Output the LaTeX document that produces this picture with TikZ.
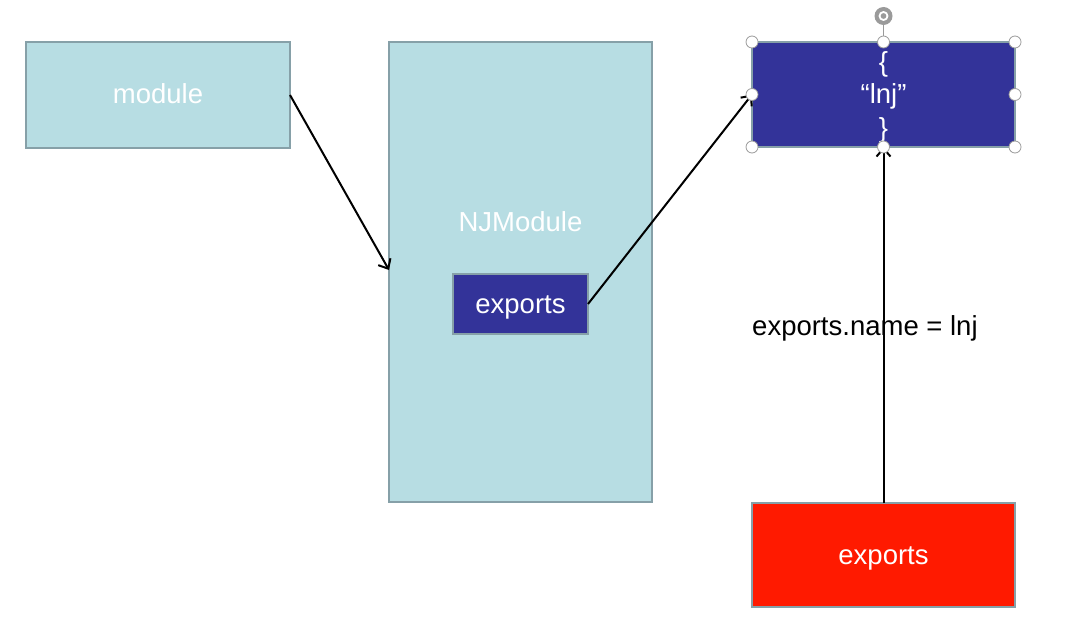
\documentclass[tikz,border=0pt]{standalone}
\usepackage{fontspec}
\setmainfont{Liberation Sans}
\usetikzlibrary{arrows.meta}
\definecolor{lightbox}{HTML}{B7DDE3}
\definecolor{boxline}{HTML}{86A0A8}
\definecolor{darkbox}{HTML}{333399}
\definecolor{redbox}{HTML}{FF1A00}
\definecolor{handleline}{HTML}{9A9A9A}
\tikzset{
  txt/.style={font=\fontsize{27.5}{33}\selectfont, text height=20pt, text depth=2pt},
  box/.style={txt, draw=boxline, line width=1.5pt, inner sep=0pt, outer sep=0pt, text=white},
  lightfill/.style={box, fill=lightbox},
  darkfill/.style={box, fill=darkbox},
  redfill/.style={box, fill=redbox},
  wtxt/.style={txt, text=white, inner sep=0pt},
  conn/.style={line width=2pt, -{Straight Barb[length=8pt,width=14pt,line width=2pt]}},
  handle/.style={circle, draw=handleline, fill=white, line width=0.8pt, minimum size=12pt, inner sep=0pt},
  lbl/.style={txt, inner sep=0pt, anchor=west}
}
\begin{document}
\begin{tikzpicture}[x=1pt,y=-1pt]
\useasboundingbox (0,0) rectangle (1091,631);
\node[lightfill, minimum width=264pt, minimum height=106pt] (module) at (158,95) {module};
\node[lightfill, minimum width=263pt, minimum height=460pt] (nj) at (520.5,272) {};
\node[wtxt] (njlabel) at (520.5,222) {NJModule};
\node[darkfill, minimum width=135pt, minimum height=60pt] (exp) at (520.5,304) {exports};
\node[darkfill, minimum width=263pt, minimum height=105pt] (obj) at (883.5,94.5) {};
\node[wtxt] (l1) at (883.5,63) {\{};
\node[wtxt] (l2) at (883.5,95) {“lnj”};
\node[wtxt] (l3) at (883.5,129) {\}};
\node[redfill, minimum width=263pt, minimum height=104pt] (red) at (883.5,555) {exports};
\node[lbl] (name) at (752,326) {exports.name = lnj};
\draw[conn] (module.east) -- (nj.west |- 0,270);
\draw[conn] (exp.east) -- (obj.west);
\draw[conn] (red.north) -- (obj.south);
% selection handles
\draw[handleline, line width=1pt] (obj.north) -- (883.5,18);
\node[circle, fill=handleline, minimum size=18pt, inner sep=0pt] (rot) at (883.5,16) {};
\node[circle, draw=white, line width=1.8pt, minimum size=8pt, inner sep=0pt] (roti) at (883.5,16) {};
\foreach \p in {north west, north, north east, west, east, south west, south, south east}
  \node[handle] at (obj.\p) {};
\end{tikzpicture}
\end{document}
